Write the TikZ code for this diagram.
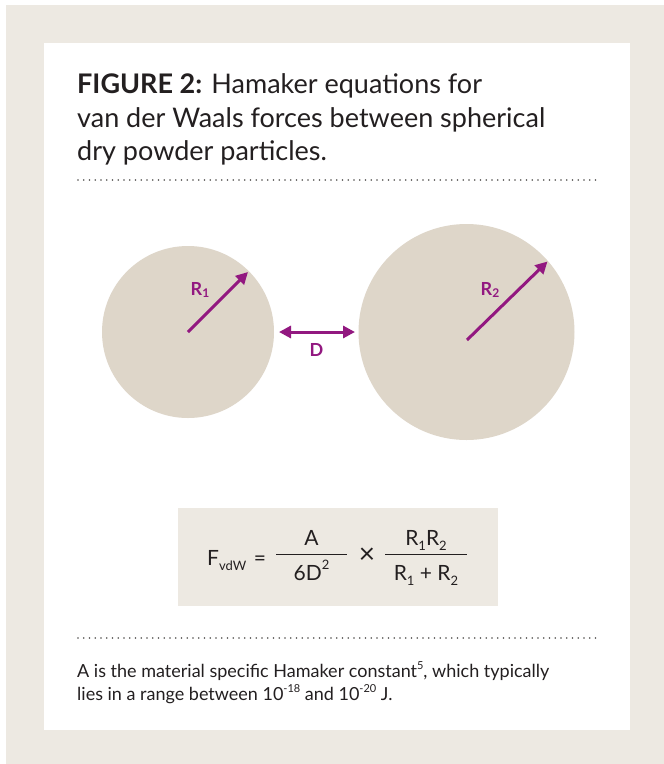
\documentclass[tikz,border=0pt]{standalone}
\usepackage{fontspec}
\setmainfont{Lato}
\usetikzlibrary{arrows.meta}
\definecolor{bgbeige}{RGB}{237,233,226}
\definecolor{ballbeige}{RGB}{222,214,201}
\definecolor{plum}{RGB}{146,24,128}
\definecolor{ink}{RGB}{35,31,32}
\definecolor{dotgray}{RGB}{80,78,76}
\newcommand{\lsub}[1]{\raisebox{-0.25em}{\fontsize{13}{13}\selectfont #1}}
\newcommand{\lsup}[1]{\raisebox{0.5em}{\fontsize{13}{13}\selectfont #1}}
\newcommand{\tsup}[1]{\raisebox{0.42em}{\fontsize{11}{11}\selectfont #1}}
\tikzset{
  title/.style={anchor=base west, inner sep=0pt, text=ink, font=\fontsize{27}{27}\selectfont},
  body/.style={anchor=base west, inner sep=0pt, text=ink, font=\fontsize{18}{18}\selectfont},
  formula/.style={anchor=base, inner sep=0pt, text=ink, font=\fontsize{21}{21}\selectfont},
  dimlabel/.style={inner sep=0pt, text=plum, font=\fontsize{18}{18}\selectfont\bfseries},
  dimarrow/.style={draw=plum, line width=3pt, -{Triangle[length=12pt,width=12pt]}},
  dimarrows/.style={draw=plum, line width=3pt, {Triangle[length=12pt,width=12pt]}-{Triangle[length=12pt,width=12pt]}},
  dotrule/.style={draw=dotgray, line width=1.8pt, line cap=round, dash pattern=on 0pt off 5.75pt},
  fracbar/.style={draw=ink, line width=1pt},
}
\begin{document}
\begin{tikzpicture}[x=1pt,y=-1pt]
\useasboundingbox (0,0) rectangle (664,764);
% frame
\fill[bgbeige] (6,5) rectangle (664,764);
\fill[white] (44,43) rectangle (630,730);
% title
\node[title] (t1) at (77,93) {\textbf{FIGURE 2:} Hamaker equations for};
\node[title] (t2) at (77,127) {van der Waals forces between spherical};
\node[title] (t3) at (77,160) {dry powder particles.};
\draw[dotrule] (78,180) -- (598,180);
% particles
\fill[ballbeige] (188,332) circle[radius=86];
\fill[ballbeige] (466.5,332) circle[radius=108];
\coordinate (c1) at (188,332);
\coordinate (e1) at (248,272);
\coordinate (c2) at (467,340);
\coordinate (e2) at (547.5,261.5);
\coordinate (dl) at (279,332);
\coordinate (dr) at (355,332);
\draw[dimarrow] (c1) -- (e1);
\draw[dimarrow] (c2) -- (e2);
\draw[dimarrows] (dl) -- (dr);
\node[dimlabel] (r1) at (200,290) {R{\fontsize{12}{12}\selectfont\raisebox{-0.2em}{1}}};
\node[dimlabel] (r2) at (490,290) {R{\fontsize{12}{12}\selectfont\raisebox{-0.2em}{2}}};
\node[dimlabel] (dlab) at (316.5,350) {D};
% formula box
\fill[bgbeige] (178,508) rectangle (498,606);
\node[formula, anchor=base west] (F) at (207,565) {F\lsub{vdW}};
\node[formula] (eq) at (260,565) {=};
\coordinate (b1l) at (276,554);
\coordinate (b1r) at (347,554);
\draw[fracbar] (b1l) -- (b1r);
\node[formula] (num1) at (311.5,545) {A};
\node[formula] (den1) at (311.5,580) {6D\lsup{2}};
\node[formula, font=\fontsize{28}{28}\selectfont] (times) at (367,563) {×};
\coordinate (b2l) at (385,554);
\coordinate (b2r) at (467,554);
\draw[fracbar] (b2l) -- (b2r);
\node[formula] (num2) at (426,545) {R\lsub{1}R\lsub{2}};
\node[formula] (den2) at (426,580) {R\lsub{1} + R\lsub{2}};
% footnote
\draw[dotrule] (78,638) -- (598,638);
\node[body] (n1) at (77,677) {A is the material specific Hamaker constant\tsup{5}, which typically};
\node[body] (n2) at (77,700) {lies in a range between 10\tsup{-18} and 10\tsup{-20} J.};
\end{tikzpicture}
\end{document}
